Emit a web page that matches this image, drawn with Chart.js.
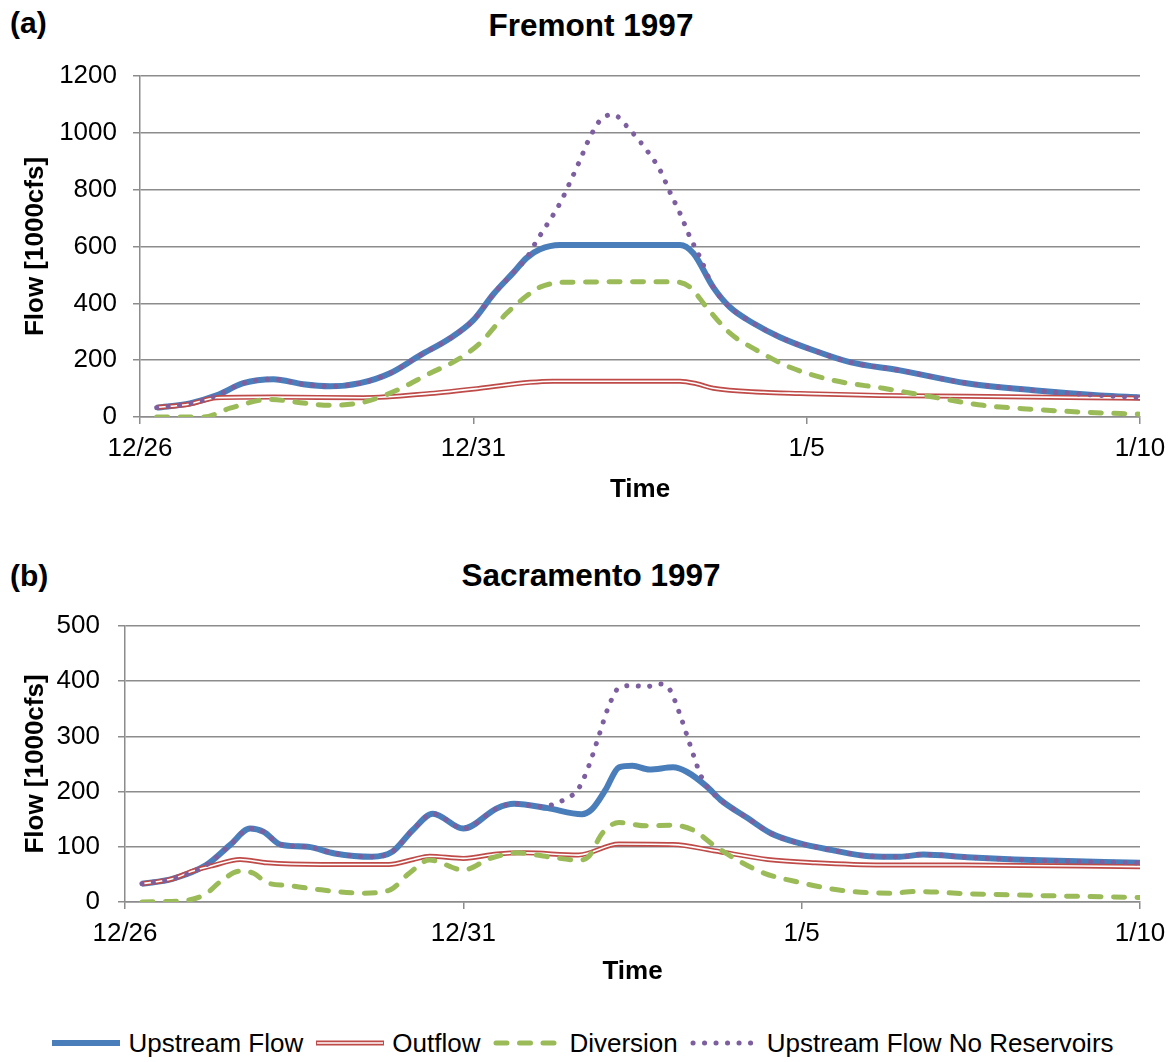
<!DOCTYPE html>
<html>
<head>
<meta charset="utf-8">
<title>Fremont and Sacramento 1997</title>
<script src="https://cdn.jsdelivr.net/npm/chart.js@4.4.0/dist/chart.umd.min.js"></script>
<style>
  body { margin: 0; background: #fff; font-family: "Liberation Sans", Arial, sans-serif; color: #000; }
  #page { position: relative; width: 1175px; height: 1062px; overflow: hidden; }
  canvas { position: absolute; left: 0; }
  .panel { position: absolute; left: 10px; font-weight: bold; font-size: 30px; line-height: 1; }
  .title { position: absolute; left: 341px; width: 500px; text-align: center; font-weight: bold; font-size: 31.5px; line-height: 1; }
  #legend { position: absolute; top: 1028px; left: 0; width: 1175px; display: flex; justify-content: center; align-items: center; font-size: 26px; line-height: 30px; }
  #legend svg { margin-right: 6px; }
  #legend span { margin-right: 11px; }
</style>
</head>
<body>
<div id="page">
  <div class="panel" style="top:8px">(a)</div>
  <div class="title" style="top:10px">Fremont 1997</div>
  <canvas id="fremont" width="1175" height="510" style="top:0"></canvas>

  <div class="panel" style="top:561px">(b)</div>
  <div class="title" style="top:560px">Sacramento 1997</div>
  <canvas id="sacramento" width="1175" height="470" style="top:520px"></canvas>

  <div id="legend"></div>
</div>
<script>
// x = days after 12/26 00:00, y = flow in 1000 cfs
const tickLabels = ["12/26", "12/31", "1/5", "1/10"];
const fremontTicks = [0, 200, 400, 600, 800, 1000, 1200];
const sacramentoTicks = [0, 100, 200, 300, 400, 500];

const fremontUpstream = [[0.25,33],[0.75,48],[1.15,76],[1.55,119],[2.0,133],[2.45,115],[2.85,108],[3.3,119],[3.75,154],[4.2,217],[4.65,277],[5.0,341],[5.3,432],[5.6,508],[5.8,560],[6.0,590],[6.3,605],[7.0,605],[8.1,605],[8.3,576],[8.6,456],[8.85,386],[9.2,330],[9.6,281],[10.1,235],[10.65,193],[11.4,164],[12.4,119],[13.4,94],[14.4,76],[15,69]];
const fremontOutflow = [[0.25,33],[0.75,46],[1.15,68],[2.0,70],[3.35,68],[4.35,83],[5.1,101],[5.85,122],[6.2,126],[8.1,126],[8.35,117],[8.6,101],[9.35,87],[9.9,83],[11.1,76],[12.4,73],[15,66]];
const fremontDiversion = [[0.25,0],[0.95,0],[1.35,31],[1.95,62],[2.35,52],[2.85,41],[3.35,52],[3.85,94],[4.35,154],[4.75,200],[5.1,260],[5.5,365],[5.85,435],[6.0,457],[6.35,474],[8.0,476],[8.25,457],[8.5,386],[8.85,295],[9.25,235],[9.75,175],[10.4,129],[11.15,101],[11.9,70],[12.65,41],[13.4,27],[14.15,17],[15,10]];
const fremontNoReservoirs = [[0.25,33],[0.75,48],[1.15,76],[1.55,119],[2.0,133],[2.45,115],[2.85,108],[3.3,119],[3.75,154],[4.2,217],[4.65,277],[5.0,341],[5.3,432],[5.6,508],[5.8,560],[5.95,620],[6.1,675],[6.3,752],[6.45,826],[6.6,904],[6.75,985],[6.95,1055],[7.1,1063],[7.35,1010],[7.6,939],[7.8,869],[7.95,791],[8.1,717],[8.25,633],[8.4,562],[8.6,456],[8.85,386],[9.2,330],[9.6,281],[10.1,235],[10.65,193],[11.4,164],[12.4,119],[13.4,94],[14.4,76],[15,69]];

const sacUpstream = [[0.25,33],[0.7,42],[1.2,67],[1.55,103],[1.85,133],[2.05,127],[2.3,104],[2.7,100],[3.1,88],[3.65,82],[3.95,91],[4.25,130],[4.55,160],[5.0,133],[5.5,170],[5.75,178],[6.25,170],[6.75,159],[6.9,168],[7.1,203],[7.3,244],[7.5,247],[7.75,240],[8.1,244],[8.3,236],[8.6,209],[8.8,185],[9.2,152],[9.55,124],[9.95,107],[10.45,94],[11.0,83],[11.45,82],[11.8,86],[12.45,81],[13.4,76],[15,71]];
const sacOutflow = [[0.25,33],[0.7,42],[1.0,56],[1.3,66],[1.7,77],[2.1,71],[2.9,68],[3.9,68],[4.26,77],[4.5,83],[5.0,79],[5.5,87],[5.9,89],[6.7,85],[7.3,105],[8.1,104],[8.7,93],[9.5,77],[10.2,71],[11.2,67],[12.4,67],[15,64]];
const sacDiversion = [[0.25,0],[0.9,3],[1.2,15],[1.4,36],[1.7,56],[1.9,52],[2.1,35],[2.4,30],[2.9,22],[3.5,16],[3.9,21],[4.2,52],[4.5,76],[5.0,58],[5.4,79],[5.8,89],[6.25,82],[6.7,76],[6.85,82],[7.05,124],[7.3,144],[7.7,138],[8.1,139],[8.4,130],[8.7,103],[9.05,76],[9.45,52],[9.95,36],[10.6,21],[11.3,16],[11.7,19],[12.45,15],[13.4,12],[15,8]];
const sacNoReservoirs = [[0.25,33],[0.7,42],[1.2,67],[1.55,103],[1.85,133],[2.05,127],[2.3,104],[2.7,100],[3.1,88],[3.65,82],[3.95,91],[4.25,130],[4.55,160],[5.0,133],[5.5,170],[5.75,178],[6.15,173],[6.5,186],[6.7,205],[6.85,245],[7.0,300],[7.15,355],[7.3,388],[7.5,392],[7.7,390],[7.9,395],[8.05,385],[8.2,340],[8.35,285],[8.5,232],[8.6,209],[8.8,185],[9.2,152],[9.55,124],[9.95,107],[10.45,94],[11.0,83],[11.45,82],[11.8,86],[12.45,81],[13.4,76],[15,71]];

const blue = "#4A7EBB";
const red = "#BE4B48";
const green = "#9BBB59";
const purple = "#7D5FA0";
const gridColor = "#8C8C8C";

const toPoints = (arr) => arr.map(([x, y]) => ({ x, y }));

function seriesSets(up, out, div, noRes) {
  const common = { fill: false, pointRadius: 0, cubicInterpolationMode: "monotone", borderJoinStyle: "round" };
  // lower order is drawn on top
  return [
    { ...common, data: toPoints(noRes), borderColor: purple, borderWidth: 5, borderDash: [0.1, 11.4], borderCapStyle: "round", order: 0 },
    { ...common, data: toPoints(div), borderColor: green, borderWidth: 5, borderDash: [11, 12.5], borderCapStyle: "round", order: 1 },
    { ...common, data: toPoints(out), borderColor: "#fff", borderWidth: 1.6, order: 2 },
    { ...common, data: toPoints(out), borderColor: red, borderWidth: 5, order: 3 },
    { ...common, data: toPoints(up), borderColor: blue, borderWidth: 6, order: 4 },
  ];
}

function drawPanel(id, sets, yTicks, p) {
  new Chart(document.getElementById(id), {
    type: "line",
    data: { datasets: sets },
    options: {
      responsive: false,
      animation: false,
      events: [],
      layout: { padding: { top: p.top, right: 35, left: 0, bottom: 0 } },
      plugins: { legend: { display: false }, tooltip: { enabled: false } },
      scales: {
        x: {
          type: "linear",
          min: 0,
          max: 15,
          afterFit: (s) => { s.height = p.xHeight; },
          afterBuildTicks: (s) => { s.ticks = tickLabels.map((_, i) => ({ value: i * 5 })); },
          ticks: { callback: (v) => tickLabels[v / 5], font: { size: 26 }, color: "#000", padding: 9, maxRotation: 0, autoSkip: false },
          grid: { drawOnChartArea: false, tickLength: 7, color: gridColor, lineWidth: 1.5 },
          border: { color: gridColor, width: 1.5 },
          title: { display: true, text: "Time", font: { size: 26, weight: "bold" }, color: "#000", padding: { top: 0, bottom: p.timePad } },
        },
        y: {
          min: 0,
          max: yTicks[yTicks.length - 1],
          afterFit: (s) => { s.width = p.left; },
          afterBuildTicks: (s) => { s.ticks = yTicks.map((v) => ({ value: v })); },
          ticks: { callback: (v) => String(v), font: { size: 26 }, color: "#000", padding: p.yPad },
          grid: { tickLength: 7, color: gridColor, lineWidth: 1.5 },
          border: { color: gridColor, width: 1.5 },
          title: { display: true, text: "Flow [1000cfs]", font: { size: 26, weight: "bold" }, color: "#000", padding: { top: 20, bottom: 0 } },
        },
      },
    },
  });
}

drawPanel("fremont", seriesSets(fremontUpstream, fremontOutflow, fremontDiversion, fremontNoReservoirs), fremontTicks,
  { top: 76, xHeight: 93, left: 140, yPad: 16, timePad: 5 });
drawPanel("sacramento", seriesSets(sacUpstream, sacOutflow, sacDiversion, sacNoReservoirs), sacramentoTicks,
  { top: 106, xHeight: 88, left: 125, yPad: 18, timePad: 2.5 });

// legend
const legendItems = [
  { label: "Upstream Flow", svg: `<line x1="2" y1="7" x2="70" y2="7" stroke="${blue}" stroke-width="6"/>` },
  { label: "Outflow", svg: `<line x1="2" y1="7" x2="70" y2="7" stroke="${red}" stroke-width="5"/><line x1="3" y1="7" x2="69" y2="7" stroke="#fff" stroke-width="1.6"/>` },
  { label: "Diversion", svg: `<line x1="5" y1="7" x2="68" y2="7" stroke="${green}" stroke-width="5" stroke-dasharray="11 12.5" stroke-linecap="round"/>` },
  { label: "Upstream Flow No Reservoirs", svg: `<line x1="4" y1="7" x2="68" y2="7" stroke="${purple}" stroke-width="5" stroke-dasharray="0.1 11.4" stroke-linecap="round"/>` },
];
document.getElementById("legend").innerHTML = legendItems
  .map((it) => `<svg width="72" height="14">${it.svg}</svg><span>${it.label}</span>`)
  .join("");
</script>
</body>
</html>
